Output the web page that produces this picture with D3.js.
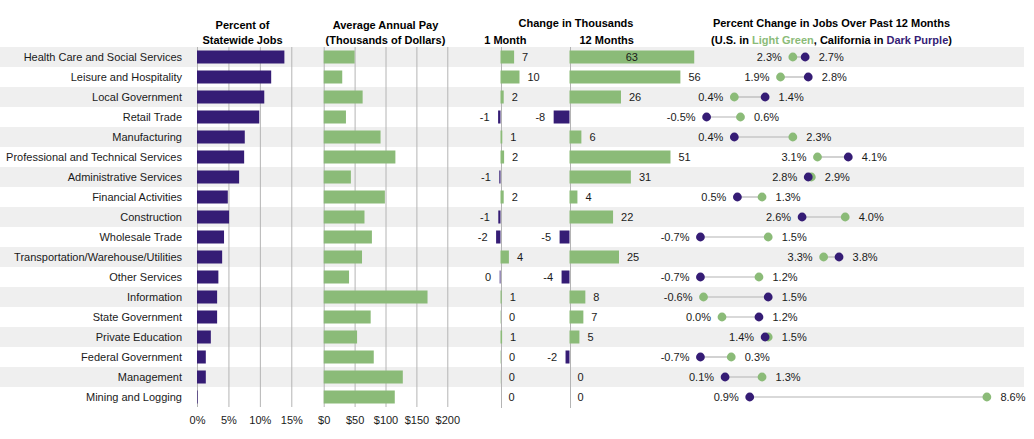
<!DOCTYPE html>
<html>
<head>
<meta charset="utf-8">
<script src="https://cdn.jsdelivr.net/npm/d3@7"></script>
<style>
  html, body { margin: 0; padding: 0; background: #fff; }
  svg { display: block; font-family: Arial, "Liberation Sans", sans-serif; }
</style>
</head>
<body>
<svg id="chart" width="1034" height="439"></svg>
<script>
// ---------- DATA ----------
const categories = [
  "Health Care and Social Services",
  "Leisure and Hospitality",
  "Local Government",
  "Retail Trade",
  "Manufacturing",
  "Professional and Technical Services",
  "Administrative Services",
  "Financial Activities",
  "Construction",
  "Wholesale Trade",
  "Transportation/Warehouse/Utilities",
  "Other Services",
  "Information",
  "State Government",
  "Private Education",
  "Federal Government",
  "Management",
  "Mining and Logging"
];
const pctStatewideJobs = [13.9, 11.8, 10.7, 9.9, 7.6, 7.5, 6.7, 4.9, 5.1, 4.3, 4.0, 3.4, 3.2, 3.2, 2.2, 1.4, 1.4, 0.1];
const avgAnnualPay = [50, 30, 63, 36, 92, 116, 44, 99, 66, 78, 62, 41, 168, 76, 54, 81, 128, 115];
const change1Month = [6.8, 9.5, 1.6, -1.2, 0.9, 1.8, -0.6, 1.6, -1.1, -2.2, 4.2, -0.4, 0.6, 0.2, 0.8, 0.2, 0.1, 0.0];
const change12Months = [63, 56, 26, -8, 6, 51, 31, 4, 22, -5, 25, -4, 8, 7, 5, -2, 0, 0];
const usPctChange = [2.3, 1.9, 0.4, 0.6, 2.3, 3.1, 2.9, 1.3, 4.0, 1.5, 3.3, 1.2, -0.6, 0.0, 1.5, 0.3, 1.3, 8.6];
const caPctChange = [2.7, 2.8, 1.4, -0.5, 0.4, 4.1, 2.8, 0.5, 2.6, -0.7, 3.8, -0.7, 1.5, 1.2, 1.4, -0.7, 0.1, 0.9];
const pctTicks = [0, 5, 10, 15];
const payTicks = [0, 50, 100, 150, 200];

// ---------- STYLE ----------
const PURPLE = "#351c75";
const GREEN = "#8bbb78";
const BAND = "#efefef";
const GRID = "#b4b4b4";
const TEXT = "#1a1a1a";

const svg = d3.select("#chart");

// ---------- SCALES ----------
const y = d3.scaleBand().domain(categories).range([47, 407]);
const yBar = d3.scaleBand().domain(categories).range([47, 407]).paddingInner(0.35).paddingOuter(0.175);
const xPct = d3.scaleLinear().domain([0, 15]).range([197, 291.3]);
const xPay = d3.scaleLinear().domain([0, 200]).range([323.7, 447.3]);
const x1m = d3.scaleLinear().domain([-10, 10]).range([480.5, 520.5]);
const x12m = d3.scaleLinear().domain([-10, 65]).range([549.7, 698.2]);
const xDot = d3.scaleLinear().domain([-1, 9]).range([691.2, 999.2]);

const rows = categories.map((c, i) => ({
  c, i,
  pct: pctStatewideJobs[i],
  pay: avgAnnualPay[i],
  m1: change1Month[i],
  m12: change12Months[i],
  us: usPctChange[i],
  ca: caPctChange[i]
}));

// ---------- BANDS ----------
svg.append("g").selectAll("rect").data(rows.filter(d => d.i % 2 === 0)).join("rect")
  .attr("x", 0).attr("width", 1024)
  .attr("y", d => y(d.c)).attr("height", y.bandwidth())
  .attr("fill", BAND);

// ---------- HEADERS ----------
const hdr = svg.append("g").attr("font-size", 11).attr("font-weight", "bold").attr("fill", "#000").attr("text-anchor", "middle");
hdr.append("text").attr("x", 242.5).attr("y", 29).text("Percent of");
hdr.append("text").attr("x", 242.5).attr("y", 44).text("Statewide Jobs");
hdr.append("text").attr("x", 385.5).attr("y", 29).text("Average Annual Pay");
hdr.append("text").attr("x", 385.5).attr("y", 44).text("(Thousands of Dollars)");
hdr.append("text").attr("x", 576).attr("y", 27).text("Change in Thousands");
hdr.append("text").attr("x", 505.3).attr("y", 44).text("1 Month");
hdr.append("text").attr("x", 606.7).attr("y", 44).text("12 Months");
hdr.append("text").attr("x", 831.5).attr("y", 27).text("Percent Change in Jobs Over Past 12 Months");
const leg = hdr.append("text").attr("x", 831.5).attr("y", 44);
leg.append("tspan").text("(U.S. in ");
leg.append("tspan").attr("fill", GREEN).text("Light Green");
leg.append("tspan").text(", California in ");
leg.append("tspan").attr("fill", PURPLE).text("Dark Purple");
leg.append("tspan").text(")");

// ---------- CATEGORY LABELS ----------
svg.append("g").selectAll("text").data(rows).join("text")
  .attr("x", 182).attr("y", d => y(d.c) + y.bandwidth() / 2).attr("dy", "0.35em")
  .attr("text-anchor", "end").attr("font-size", 11).attr("fill", TEXT)
  .text(d => d.c);

// ---------- AXES / GRIDS ----------
function gridAxis(scale, ticks, fmt) {
  const g = svg.append("g").attr("transform", "translate(0,407)")
    .call(d3.axisBottom(scale).tickValues(ticks).tickFormat(fmt).tickSize(-360).tickPadding(9));
  g.select(".domain").remove();
  g.selectAll(".tick line").attr("stroke", GRID);
  g.selectAll(".tick text").attr("font-size", 11).attr("fill", TEXT)
    .attr("font-family", 'Arial, "Liberation Sans", sans-serif');
}
gridAxis(xPct, pctTicks, d => d + "%");
gridAxis(xPay, payTicks, d => "$" + d);

// zero lines for change panels
[x1m, x12m].forEach(s => {
  svg.append("line")
    .attr("x1", Math.round(s(0)) + 0.5).attr("x2", Math.round(s(0)) + 0.5)
    .attr("y1", 47).attr("y2", 408)
    .attr("stroke", GRID);
});

// ---------- BARS ----------
svg.append("g").selectAll("rect").data(rows).join("rect")
  .attr("x", xPct(0)).attr("y", d => yBar(d.c)).attr("height", yBar.bandwidth())
  .attr("width", d => xPct(d.pct) - xPct(0)).attr("fill", PURPLE);

svg.append("g").selectAll("rect").data(rows).join("rect")
  .attr("x", xPay(0)).attr("y", d => yBar(d.c)).attr("height", yBar.bandwidth())
  .attr("width", d => xPay(d.pay) - xPay(0)).attr("fill", GREEN);

const fmtInt = v => String(Math.round(v) || 0);

function changeBars(scale, key, centerLimit) {
  const g = svg.append("g");
  g.selectAll("rect").data(rows).join("rect")
    .attr("x", d => Math.min(scale(0), scale(d[key])))
    .attr("y", d => yBar(d.c)).attr("height", yBar.bandwidth())
    .attr("width", d => Math.abs(scale(d[key]) - scale(0)))
    .attr("fill", d => d[key] < 0 ? PURPLE : GREEN);
  g.selectAll("text").data(rows).join("text")
    .attr("y", d => y(d.c) + y.bandwidth() / 2).attr("dy", "0.35em")
    .attr("font-size", 11).attr("fill", TEXT)
    .attr("x", d => {
      const v = d[key];
      if (v >= 0 && scale(v) + 24 > centerLimit) return (scale(0) + scale(v)) / 2;
      return v < 0 ? scale(v) - 8.5 : scale(v) + 8;
    })
    .attr("text-anchor", d => {
      const v = d[key];
      if (v >= 0 && scale(v) + 24 > centerLimit) return "middle";
      return v < 0 ? "end" : "start";
    })
    .text(d => fmtInt(d[key]));
}
changeBars(x1m, "m1", 9999);
changeBars(x12m, "m12", 712);

// ---------- DOT PLOT ----------
const dots = svg.append("g");
dots.selectAll("line").data(rows).join("line")
  .attr("x1", d => xDot(d.us)).attr("x2", d => xDot(d.ca))
  .attr("y1", d => y(d.c) + y.bandwidth() / 2).attr("y2", d => y(d.c) + y.bandwidth() / 2)
  .attr("stroke", GRID).attr("stroke-width", 1.2);
dots.selectAll("circle.us").data(rows).join("circle").attr("class", "us")
  .attr("cx", d => xDot(d.us)).attr("cy", d => y(d.c) + y.bandwidth() / 2)
  .attr("r", 4.4).attr("fill", GREEN);
dots.selectAll("circle.ca").data(rows).join("circle").attr("class", "ca")
  .attr("cx", d => xDot(d.ca)).attr("cy", d => y(d.c) + y.bandwidth() / 2)
  .attr("r", 4.4).attr("fill", PURPLE);

const fmtPct = v => (Math.abs(v) < 0.05 ? "0.0" : d3.format(".1f")(v).replace("\u2212", "-")) + "%";
dots.selectAll("text.lo").data(rows).join("text").attr("class", "lo")
  .attr("x", d => xDot(Math.min(d.us, d.ca)) - 11)
  .attr("y", d => y(d.c) + y.bandwidth() / 2).attr("dy", "0.35em")
  .attr("text-anchor", "end").attr("font-size", 11).attr("fill", TEXT)
  .text(d => fmtPct(Math.min(d.us, d.ca)));
dots.selectAll("text.hi").data(rows).join("text").attr("class", "hi")
  .attr("x", d => xDot(Math.max(d.us, d.ca)) + 13.5)
  .attr("y", d => y(d.c) + y.bandwidth() / 2).attr("dy", "0.35em")
  .attr("text-anchor", "start").attr("font-size", 11).attr("fill", TEXT)
  .text(d => fmtPct(Math.max(d.us, d.ca)));
</script>
</body>
</html>
